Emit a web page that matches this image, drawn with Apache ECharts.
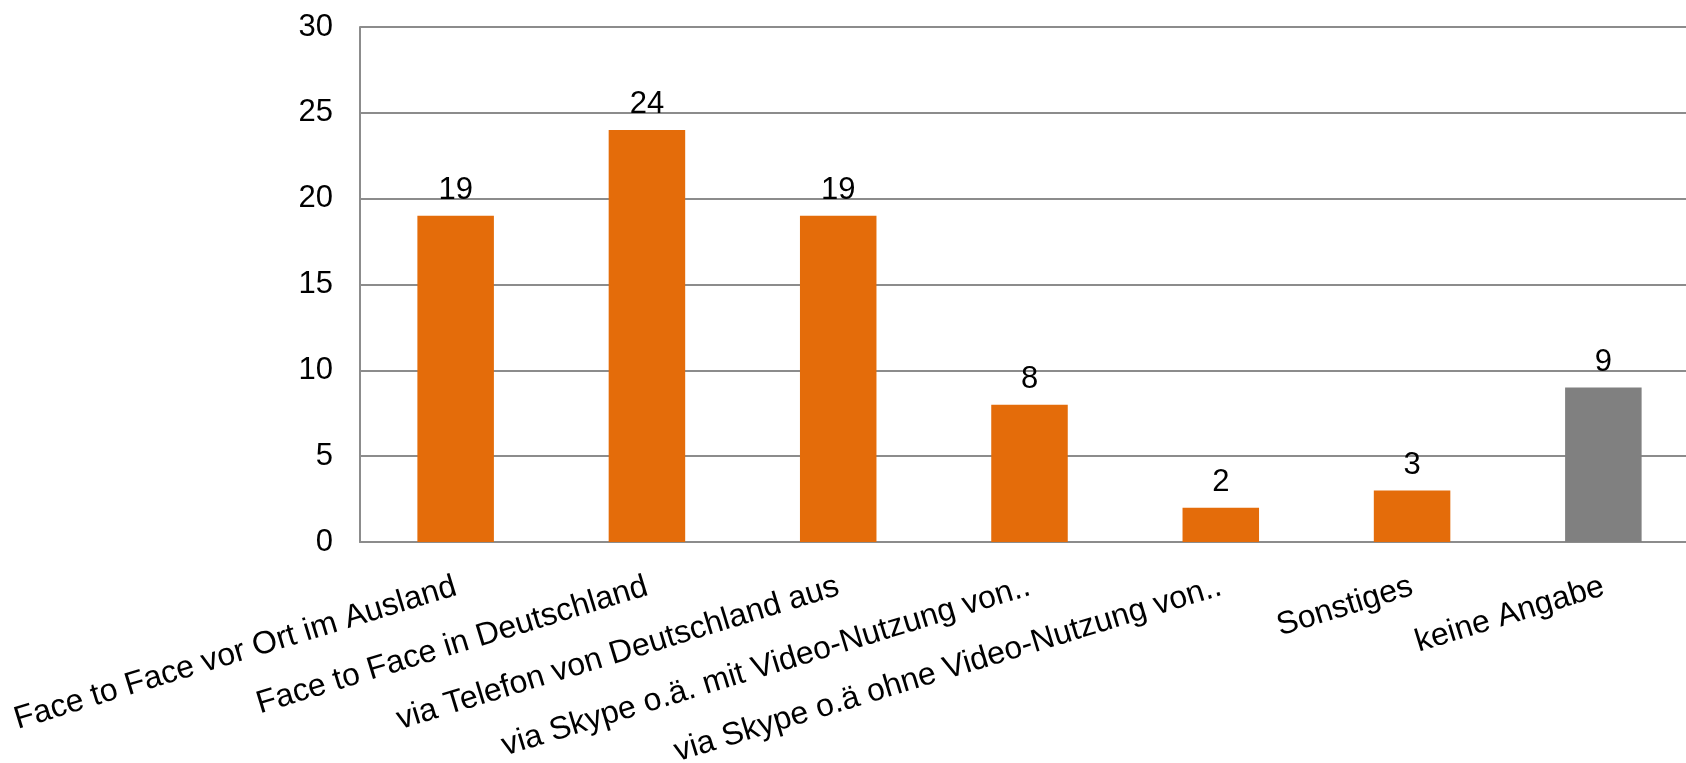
<!DOCTYPE html>
<html>
<head>
<meta charset="utf-8">
<script src="https://cdn.jsdelivr.net/npm/echarts@6/dist/echarts.min.js"></script>
<style>
    html, body { margin: 0; padding: 0; background: #fff; }
    #chart { width: 1686px; height: 763px; }
</style>
</head>
<body>
<div id="chart"></div>
<script>
// categories and values
const categories = [
    'Face to Face vor Ort im Ausland',
    'Face to Face in Deutschland',
    'via Telefon von Deutschland aus',
    'via Skype o.ä. mit Video-Nutzung von..',
    'via Skype o.ä ohne Video-Nutzung von..',
    'Sonstiges',
    'keine Angabe'
];
const counts = [19, 24, 19, 8, 2, 3, 9];
const yTicks = [0, 5, 10, 15, 20, 25, 30];

const orange = '#E46C0A',
      grey = '#808080',
      lineColor = '#8C8C8C';

const option = {
    animation: false,
    grid: {
        left: 360,
        top: 27,
        bottom: 221,
        right: -13,
        containLabel: false,
        outerBoundsMode: 'none'
    },
    xAxis: {
        type: 'category',
        data: categories,
        axisLine: { lineStyle: { color: lineColor, width: 2 } },
        axisTick: { show: false },
        axisLabel: {
            interval: 0,
            rotate: 17,
            margin: 44,
            color: '#000',
            fontSize: 32,
            fontFamily: 'Liberation Sans, Arial, sans-serif'
        }
    },
    yAxis: {
        type: 'value',
        min: yTicks[0],
        max: yTicks[yTicks.length - 1],
        interval: 5,
        axisLine: { show: true, lineStyle: { color: lineColor, width: 2 } },
        axisTick: { show: false },
        splitLine: { lineStyle: { color: lineColor, width: 2 } },
        axisLabel: {
            margin: 27,
            color: '#000',
            fontSize: 31,
            fontFamily: 'Liberation Sans, Arial, sans-serif'
        }
    },
    series: [
        {
            type: 'bar',
            barWidth: '40%',
            data: counts.map((v, i) => ({
                value: v,
                itemStyle: { color: i === counts.length - 1 ? grey : orange }
            })),
            label: {
                show: true,
                position: 'top',
                distance: 10,
                color: '#000',
                fontSize: 31,
                fontFamily: 'Liberation Sans Narrow, Arial Narrow, Liberation Sans, sans-serif'
            }
        }
    ]
};

const myChart = echarts.init(document.getElementById('chart'));
myChart.setOption(option);
</script>
</body>
</html>
